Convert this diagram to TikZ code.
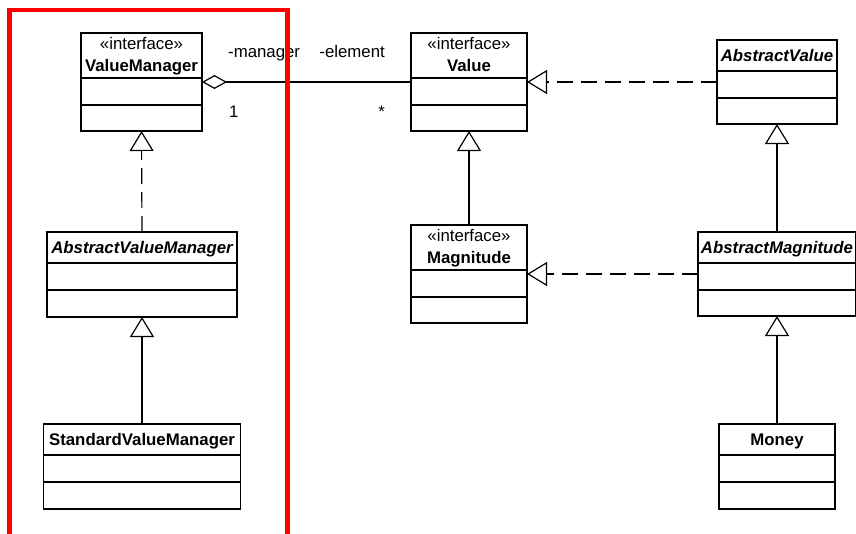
\documentclass[tikz,border=0pt]{standalone}
\usepackage{fontspec}
\setmainfont{Liberation Sans}
\usetikzlibrary{arrows.meta}

\tikzset{
  classbox/.style={draw, rectangle, line width=1.2pt, inner sep=0pt, outer sep=0pt},
  classrule/.style={line width=1.2pt},
  umltext/.style={font=\fontsize{16.8}{19}\selectfont, inner sep=0pt, anchor=base},
  stereo/.style={umltext},
  cname/.style={umltext, font=\fontsize{16.8}{19}\selectfont\bfseries},
  aname/.style={umltext, font=\fontsize{16.8}{19}\selectfont\bfseries\itshape},
  rolelabel/.style={font=\fontsize{16.8}{19}\selectfont, inner sep=0pt},
  realizes/.style={line width=1.2pt, dash pattern=on 16pt off 8pt,
    -{Triangle[open, length=20pt, width=24pt]}},
  extends/.style={line width=1.2pt, -{Triangle[open, length=20pt, width=24pt]}},
  aggregation/.style={line width=1.2pt, {Diamond[open, length=25pt, width=14pt]}-},
  highlight/.style={draw=red, line width=4.2pt}
}

% #1 name, #2 left, #3 top, #4 width, #5 height, #6 head height, #7 attribute height
\newcommand\umlclass[7]{%
  \node[classbox, anchor=north west, minimum width=#4pt, minimum height=#5pt] (#1) at (#2,#3) {};
  \draw[classrule] ([yshift=-#6pt]#1.north west) -- ([yshift=-#6pt]#1.north east);
  \draw[classrule] ([yshift={-(#6+#7)*1pt}]#1.north west) -- ([yshift={-(#6+#7)*1pt}]#1.north east);
}

\begin{document}
\begin{tikzpicture}[x=1pt, y=-1pt]
  \useasboundingbox (0,0) rectangle (856,533);

  % class boxes
  \umlclass{vm}{81}{33}{121}{98}{45}{27}
  \umlclass{val}{411}{33}{116}{98}{45}{27}
  \umlclass{av}{717}{40}{120}{84}{31}{27}
  \umlclass{avm}{47}{232}{190}{85}{31}{27}
  \umlclass{svm}{43.5}{424}{197}{85}{31}{27}
  \umlclass{mag}{411}{225}{116}{98}{45}{27}
  \umlclass{am}{698}{232}{158}{84}{31}{27}
  \umlclass{money}{719}{424}{116}{85}{31}{27}

  % class headers
  \node[stereo] (vm-st) at ([yshift=-16pt]vm.north) {«interface»};
  \node[cname] (vm-nm) at ([yshift=-38pt]vm.north) {ValueManager};
  \node[stereo] (val-st) at ([yshift=-16pt]val.north) {«interface»};
  \node[cname] (val-nm) at ([yshift=-38pt]val.north) {Value};
  \node[stereo] (mag-st) at ([yshift=-16pt]mag.north) {«interface»};
  \node[cname] (mag-nm) at ([yshift=-38pt]mag.north) {Magnitude};
  \node[aname] (av-nm) at ([yshift=-21pt]av.north) {AbstractValue};
  \node[aname] (avm-nm) at ([yshift=-21pt]avm.north) {AbstractValueManager};
  \node[aname] (am-nm) at ([yshift=-21pt]am.north) {AbstractMagnitude};
  \node[cname] (svm-nm) at ([yshift=-21pt]svm.north) {StandardValueManager};
  \node[cname] (money-nm) at ([yshift=-21pt]money.north) {Money};

  % association with its role names and multiplicities
  \draw[aggregation] (vm.east) -- (val.west);
  \node[rolelabel, anchor=base west] (role-mgr) at ([xshift=26pt, yshift=25pt]vm.east) {-manager};
  \node[rolelabel, anchor=base east] (role-elt) at ([xshift=-26pt, yshift=25pt]val.west) {-element};
  \node[rolelabel, anchor=base west] (mult-one) at ([xshift=27pt, yshift=-35pt]vm.east) {1};
  \node[rolelabel, anchor=base east] (mult-many) at ([xshift=-26pt, yshift=-35pt]val.west) {*};

  % realizations and generalizations
  \draw[realizes] (av.west) -- (val.east);
  \draw[realizes] (avm.north) -- (vm.south);
  \draw[realizes] (am.west) -- (mag.east);
  \draw[extends] (svm.north) -- (avm.south);
  \draw[extends] (mag.north) -- (val.south);
  \draw[extends] (am.north) -- (av.south);
  \draw[extends] (money.north) -- (am.south);

  % highlighted group
  \draw[highlight] (9.5,10) rectangle (287.5,560);
\end{tikzpicture}
\end{document}
